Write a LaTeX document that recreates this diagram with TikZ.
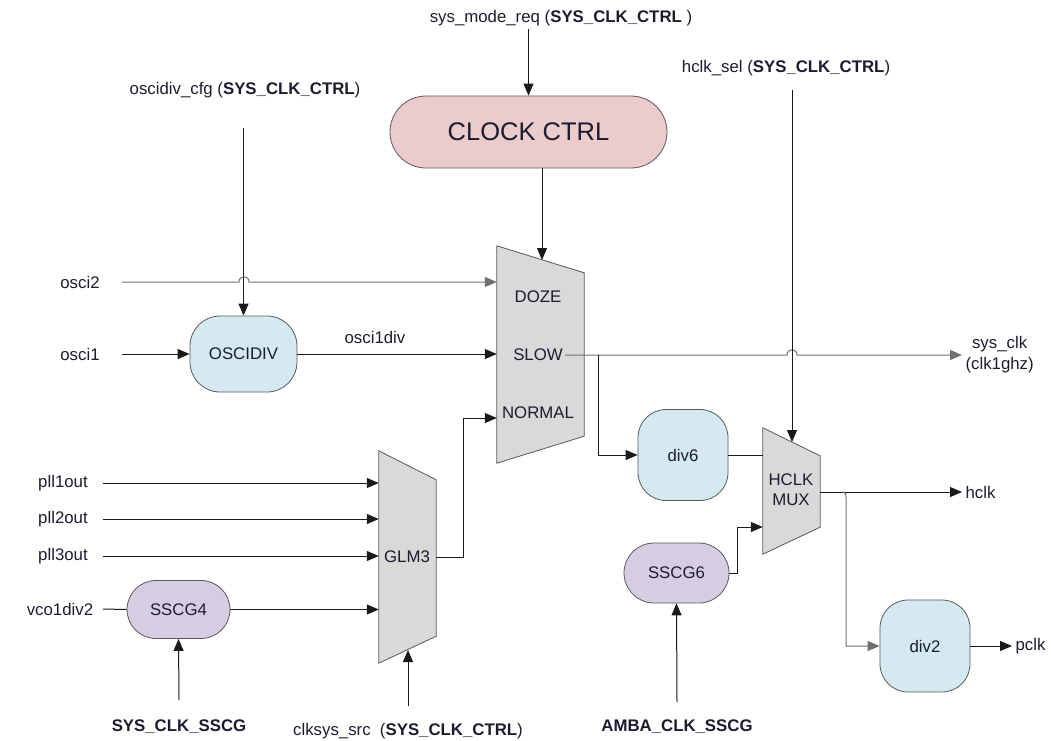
\documentclass[tikz,border=0pt]{standalone}
\usepackage{fontspec}
\setmainfont{Liberation Sans}
\usetikzlibrary{arrows.meta,calc}
\definecolor{pinkf}{HTML}{EBCBCB}
\definecolor{bluef}{HTML}{D4EAF0}
\definecolor{purpf}{HTML}{D6CDE2}
\definecolor{grayf}{HTML}{D9D9D9}
\definecolor{txt}{HTML}{1C1C30}
\definecolor{wire}{HTML}{1A1A1A}
\definecolor{gwire}{HTML}{707070}
\begin{document}
\begin{tikzpicture}[x=1pt,y=-1pt,
  font=\fontsize{16.8}{21}\selectfont, text=txt,
  arr/.style={draw=wire, line width=1pt, -{Triangle[length=12pt,width=10pt]}},
  garr/.style={arr, draw=gwire},
  wln/.style={draw=wire, line width=1pt},
  blk/.style={draw=black!65, line width=0.8pt, rounded corners=#1, inner sep=0pt},
  muxbox/.style={minimum width=#1, inner sep=0pt},
  muxs/.style={draw=black!65, line width=0.8pt, fill=grayf}
]
\useasboundingbox (0,0) rectangle (1051,740);

% blocks
\node[blk=36pt, fill=pinkf, minimum width=277pt, minimum height=72pt,
      font=\fontsize{25.5}{30}\selectfont] (clk) at (528.5,132) {CLOCK CTRL};
\node[blk=30pt, fill=bluef, minimum width=107pt, minimum height=76pt] (oscidiv) at (243.5,354) {OSCIDIV};
\node[blk=28pt, fill=bluef, minimum width=90pt, minimum height=91pt] (div6) at (683,455) {div6};
\node[blk=28pt, fill=bluef, minimum width=90pt, minimum height=92pt] (div2) at (925,646) {div2};
\node[blk=29pt, fill=purpf, minimum width=103pt, minimum height=58pt] (sscg4) at (178.5,609.5) {SSCG4};
\node[blk=30pt, fill=purpf, minimum width=105pt, minimum height=60pt] (sscg6) at (676.5,573) {SSCG6};

% muxes
\node[muxbox=87pt, minimum height=217pt] (mux1) at (540.5,354.5) {};
\draw[muxs] (mux1.north west) -- ($(mux1.north east)+(0,27)$) -- ($(mux1.south east)+(0,-27)$) -- (mux1.south west) -- cycle;
\node (doze) at (538,297) {DOZE};
\node (slow) at (538,355) {SLOW};
\node (normal) at (538,413) {NORMAL};

\node[muxbox=57pt, minimum height=126pt] (mux2) at (791.5,491) {};
\draw[muxs] (mux2.north west) -- ($(mux2.north east)+(0,28)$) -- ($(mux2.south east)+(0,-27)$) -- (mux2.south west) -- cycle;
\node[align=center, font=\fontsize{16.8}{20}\selectfont] (hmuxt) at (791,490) {HCLK\\MUX};

\node[muxbox=57pt, minimum height=212pt] (glm) at (407.5,557) {};
\draw[muxs] (glm.north west) -- ($(glm.north east)+(0,29)$) -- ($(glm.south east)+(0,-27)$) -- (glm.south west) -- cycle;
\node (glmt) at (407,557) {GLM3};

% labels
\node (sysmode) at (561,18) {sys\_mode\_req (\textbf{SYS\_CLK\_CTRL} )};
\node (cfg) at (245,90) {oscidiv\_cfg (\textbf{SYS\_CLK\_CTRL})};
\node (hsel) at (786,68) {hclk\_sel (\textbf{SYS\_CLK\_CTRL})};
\node (osci2) at (80,282) {osci2};
\node (osci1) at (80,354) {osci1};
\node (o1d) at (375,337) {osci1div};
\node[align=center, anchor=west] (sysclk) at (962,355) {sys\_clk\\(clk1ghz)};
\node[anchor=west] (hclk) at (962,492) {hclk};
\node[anchor=west] (pclk) at (1012,646) {pclk};
\node (pll1) at (63,483) {pll1out};
\node (pll2) at (63,519) {pll2out};
\node (pll3) at (63,556) {pll3out};
\node (vco) at (60,609) {vco1div2};
\node (ssscg) at (179,727) {\textbf{SYS\_CLK\_SSCG}};
\node (csrc) at (408,731) {clksys\_src\ \ (\textbf{SYS\_CLK\_CTRL})};
\node (amba) at (677,727) {\textbf{AMBA\_CLK\_SSCG}};

% free ends
\coordinate (cfgtop) at (243.5,128);
\coordinate (hseltop) at (792,90);
\coordinate (hselend) at (792,442);
\coordinate (o2s) at (122,282);
\coordinate (o1s) at (122,354);
\coordinate (p1s) at (103,483);
\coordinate (p2s) at (103,519);
\coordinate (p3s) at (103,556);
\coordinate (vcos) at (103,609);
\coordinate (sss0) at (179,700);
\coordinate (cs0) at (408,706);
\coordinate (csend) at (408,650);
\coordinate (amba0) at (677,702);
\coordinate (m1top) at (542,260);
\coordinate (slowout) at (565,355);

% connectors
\draw[arr] (sysmode.south -| clk.north) -- (clk.north);
\draw[arr] ([xshift=13.5pt]clk.south) -- (m1top);
\draw[arr] (cfgtop) -- (oscidiv.north);
\draw[garr] (o2s) -- (239,282) .. controls (239,275) and (249,275) .. (249,282) -- (mux1.west |- o2s);
\draw[arr] (o1s) -- (oscidiv.west);
\draw[arr] (oscidiv.east) -- (oscidiv.east -| mux1.west);
\draw[garr] (slowout) -- (787,355) .. controls (787,348) and (797,348) .. (797,355) -- (sysclk.west);
\draw[arr] (598,355) |- (div6.west);
\draw[wln] (div6.east) -- (div6.east -| mux2.west);
\draw[arr] (hseltop) -- (hselend);
\draw[arr] (sscg6.east) -- ++(8,0) |- (mux2.west |- 0,527);
\draw[arr] (mux2.east |- hclk.west) -- (hclk.west);
\draw[garr] (843,492) .. controls (846,493) .. (846,500) |- (div2.west);
\draw[arr] (div2.east) -- (pclk.west);
\draw[arr] (amba0) -- (sscg6.south);
\draw[arr] (p1s) -- (glm.west |- p1s);
\draw[arr] (p2s) -- (glm.west |- p2s);
\draw[arr] (p3s) -- (glm.west |- p3s);
\draw[wln] (vcos) -- (sscg4.west);
\draw[arr] (sscg4.east) -- (sscg4.east -| glm.west);
\draw[arr] (sss0) -- (sscg4.south);
\draw[arr] (cs0) -- (csend);
\draw[arr] (glm.east) -- ++(27,0) |- (mux1.west |- 0,418);
\end{tikzpicture}
\end{document}
